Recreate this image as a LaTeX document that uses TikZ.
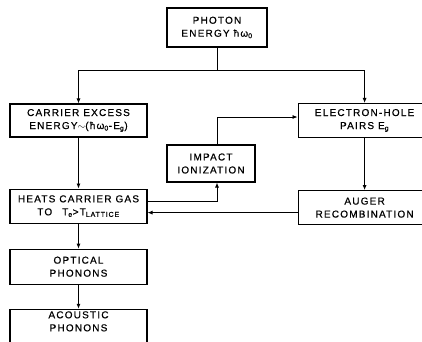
\documentclass[tikz,border=0pt]{standalone}
\usepackage{fontspec}
\setmainfont{Liberation Sans}[LetterSpace=12, FakeBold=0.6]
\usetikzlibrary{arrows.meta, positioning}

\begin{document}
\begin{tikzpicture}[x=1pt, y=1pt,
  block/.style={rectangle, draw, line width=1.1pt, minimum width=137pt, minimum height=34pt, align=center, inner sep=2pt, font=\fontsize{10}{13}\selectfont},
  arrow/.style={-{Latex[length=5pt, width=4pt]}, line width=0.8pt},
  link/.style={line width=0.8pt}
]
  \useasboundingbox (0,0) rectangle (422,341);
  \clip (0,0) rectangle (422,341);

  \node[block, minimum width=100pt, minimum height=39pt] (photon) at (217,313.5) {PHOTON\\ENERGY ħω\textsubscript{0}};
  \node[block, minimum height=33pt] (excess) at (78.5,220.5) {CARRIER EXCESS\\ENERGY$\sim$(ħω\textsubscript{0}-E\textsubscript{g})};
  \node[block, minimum width=133pt, right=150pt of excess] (pairs) {ELECTRON-HOLE\\PAIRS E\textsubscript{g}};
  \node[block, minimum width=88pt, minimum height=37pt] (impact) at (211,177.5) {IMPACT\\IONIZATION};
  \node[block, below=51pt of excess] (heats) {HEATS CARRIER GAS\\TO\quad T\textsubscript{e}>T\textsubscript{LATTICE}};
  \node[block, minimum width=133pt, below=52pt of pairs] (auger) {AUGER\\RECOMBINATION};
  \node[block, minimum height=35pt, below=25pt of heats] (optical) {OPTICAL\\PHONONS};
  \node[block, minimum height=42pt, below=24pt of optical] (acoustic) {ACOUSTIC\\PHONONS\\[8pt]};

  % photon energy splits into both branches
  \draw[link] (photon.south) -- ++(0,-23) coordinate (split);
  \draw[arrow] (split) -| (excess.north);
  \draw[arrow] (split) -| (pairs.north);

  \draw[arrow] (excess) -- (heats);
  \draw[arrow] (pairs) -- (auger);
  \draw[arrow] (heats) -- (optical);
  \draw[arrow] (optical) -- (acoustic);

  % feedback loop through impact ionization
  \draw[arrow] ([yshift=5pt]heats.east) -| ([xshift=6pt]impact.south);
  \draw[arrow] ([xshift=6pt]impact.north) |- ([yshift=3.5pt]pairs.west);
  \draw[arrow] ([yshift=-5pt]auger.west) -- ([yshift=-5pt]auger.west -| heats.east);
\end{tikzpicture}
\end{document}
